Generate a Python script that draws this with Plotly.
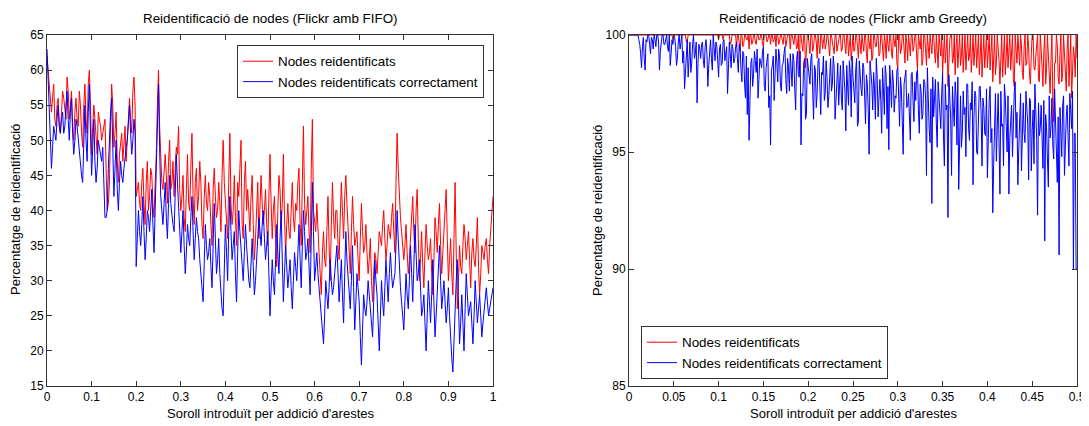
import numpy as np
import plotly.graph_objects as go

# ---------------- Left chart (Flickr amb FIFO) ----------------
# values at x = 0, 0.005, ..., 1.0
fifo_x_step = 0.005
fifo_red = [
    62, 57, 54, 58, 52, 56, 51, 57, 54, 59,
    53, 57, 50, 56, 52, 55, 49, 58, 51, 60,
    48, 55, 50, 54, 52, 51, 53, 40, 44, 58,
    49, 54, 44, 50, 47, 52, 50, 56, 51, 59,
    42, 44, 40, 46, 38, 47, 42, 45, 39, 48,
    60, 46, 43, 48, 41, 50, 44, 42, 49, 52,
    40, 45, 37, 48, 40, 51, 38, 46, 42, 44,
    36, 45, 40, 42, 35, 46, 39, 44, 37, 50,
    41, 36, 51, 38, 45, 35, 42, 50, 36, 47,
    43, 37, 45, 33, 40, 36, 45, 38, 43, 35,
    48, 36, 42, 32, 45, 38, 48, 34, 41, 36,
    44, 37, 40, 46, 35, 52, 38, 42, 34, 53,
    38, 41, 34, 28, 37, 32, 42, 30, 44, 36,
    40, 33, 44, 36, 45, 38, 31, 42, 35, 37,
    30, 41, 34, 38, 31, 36, 27, 34, 31, 37,
    35, 40, 33, 38, 36, 41, 34, 51, 42, 37,
    33, 38, 31, 36, 42, 34, 43, 30, 37, 29,
    38, 33, 36, 28, 39, 34, 41, 31, 37, 43,
    30, 36, 28, 44, 26, 35, 31, 38, 33, 37,
    29, 36, 32, 39, 28, 35, 33, 36, 31, 38,
    42,
]
# values at the midpoints x = 0.0025, 0.0075, ..., 0.9975
fifo_red_mid = [
    60, 55, 56, 53, 55, 52, 54, 56, 53, 57,
    55, 52, 54, 53, 57, 51, 55, 53, 58, 55,
    52, 53, 48, 53, 50, 52, 46, 41, 52, 55,
    51, 47, 48, 51, 49, 47, 54, 53, 57, 55,
    43, 41, 44, 41, 44, 40, 46, 41, 44, 55,
    52, 44, 46, 45, 47, 43, 47, 46, 48, 43,
    42, 39, 43, 41, 46, 42, 44, 40, 47, 38,
    42, 41, 44, 38, 43, 42, 40, 41, 45, 44,
    38, 44, 41, 40, 39, 44, 46, 38, 44, 40,
    40, 42, 38, 36, 44, 40, 41, 40, 38, 42,
    41, 40, 36, 40, 43, 41, 39, 38, 37, 40,
    39, 41, 44, 38, 44, 41, 40, 37, 46, 40,
    37, 36, 31, 34, 33, 37, 35, 38, 39, 40,
    35, 39, 40, 42, 41, 34, 37, 38, 36, 33,
    36, 37, 35, 34, 33, 30, 31, 33, 34, 36,
    38, 36, 35, 37, 39, 37, 44, 46, 39, 34,
    35, 34, 33, 39, 37, 40, 36, 33, 32, 34,
    35, 34, 31, 33, 37, 38, 35, 34, 41, 36,
    33, 31, 36, 34, 30, 32, 35, 36, 35, 33,
    34, 33, 35, 32, 31, 34, 35, 33, 35, 40,
]
fifo_blue = [
    63, 55, 46, 52, 50, 55, 51, 54, 52, 57,
    50, 56, 48, 53, 50, 47, 44, 55, 47, 58,
    45, 53, 44, 50, 48, 49, 39, 40, 52, 56,
    42, 50, 40, 47, 44, 48, 50, 55, 48, 53,
    32, 40, 35, 42, 33, 40, 37, 43, 34, 46,
    58, 42, 38, 44, 36, 45, 39, 37, 48, 41,
    34, 40, 31, 38, 35, 42, 33, 39, 36, 30,
    27, 38, 33, 36, 29, 41, 31, 36, 28, 25,
    38, 30, 42, 33, 37, 27, 40, 34, 30, 38,
    32, 29, 36, 28, 33, 39, 35, 40, 33, 37,
    25, 33, 28, 38, 31, 40, 27, 35, 29, 33,
    26, 34, 30, 38, 29, 40, 33, 36, 28, 44,
    30, 34, 29, 24, 21, 30, 26, 33, 28, 31,
    35, 27, 33, 24, 37, 30, 26, 35, 23, 31,
    27, 18, 28, 25, 30, 26, 22, 33, 28, 20,
    30, 25, 33, 27, 34, 29, 31, 40, 32, 27,
    23, 31, 26, 35, 27, 38, 30, 33, 25, 28,
    20, 30, 24, 33, 22, 28, 35, 26, 30, 24,
    29, 21, 17, 26, 33, 21, 28, 20, 31, 25,
    27, 21, 30, 24, 28, 22, 26, 29, 25, 27,
    29,
]
fifo_blue_mid = [
    59, 50, 49, 51, 53, 52, 53, 51, 55, 53,
    54, 51, 50, 52, 48, 45, 51, 50, 54, 51,
    49, 47, 46, 49, 47, 43, 39, 46, 54, 48,
    46, 43, 44, 45, 46, 49, 52, 51, 50, 51,
    36, 37, 38, 37, 36, 39, 40, 38, 40, 51,
    49, 40, 41, 39, 41, 41, 38, 43, 44, 37,
    37, 35, 34, 36, 39, 37, 36, 37, 33, 29,
    32, 35, 34, 32, 35, 36, 33, 31, 26, 32,
    34, 37, 37, 35, 31, 34, 37, 32, 34, 35,
    30, 33, 32, 30, 36, 37, 38, 36, 35, 31,
    29, 30, 33, 34, 36, 33, 31, 32, 31, 29,
    30, 32, 34, 33, 35, 37, 34, 32, 36, 37,
    32, 31, 26, 22, 25, 28, 29, 30, 29, 33,
    31, 30, 28, 31, 33, 28, 30, 29, 27, 29,
    22, 23, 26, 27, 28, 24, 27, 30, 24, 25,
    27, 29, 30, 31, 31, 30, 35, 36, 29, 25,
    27, 28, 30, 31, 32, 34, 31, 29, 26, 24,
    25, 27, 28, 27, 25, 31, 30, 28, 27, 26,
    25, 19, 22, 30, 27, 24, 24, 26, 28, 26,
    24, 25, 27, 26, 25, 24, 27, 27, 26, 28,
]

# ---------------- Right chart (Flickr amb Greedy) ----------------
# values at x = 0, 0.002, ..., 0.5
greedy_x_step = 0.002
greedy_red = [
    100, 100, 100, 100, 100, 100, 100, 100, 100, 100,
    100, 100, 100, 100, 100, 100, 100, 100, 100, 100,
    100, 100, 100, 100, 100, 100, 100, 100, 100, 100,
    100, 100, 99.7, 100, 100, 100, 100, 100, 100, 100,
    100, 100, 100, 100, 100, 100, 100, 100, 100, 100,
    99.8, 100, 100, 100, 100, 100, 100, 99.7, 100, 100,
    99.5, 100, 99.3, 100, 99.6, 100, 99.8, 99.4, 100, 99.7,
    100, 99.6, 100, 99.8, 100, 99.5, 100, 99.7, 100, 99.6,
    100, 99.8, 99.5, 100, 99.7, 100, 99.6, 100, 99.8, 100,
    99.4, 100, 99.6, 100, 99.5, 98.5, 100, 99.3, 100, 99.6,
    100, 99.2, 100, 99.5, 100, 99.0, 99.7, 100, 99.4, 100,
    99.6, 100, 99.1, 100, 99.5, 100, 99.3, 99.8, 100, 99.4,
    100, 99.2, 100, 99.6, 98.9, 100, 99.4, 100, 99.0, 99.7,
    100, 99.3, 100, 98.8, 99.6, 100, 99.1, 100, 99.5, 100,
    99.2, 100, 98.9, 99.7, 100, 99.3, 100, 99.0, 99.6, 100,
    98.6, 100, 99.4, 100, 98.8, 99.7, 100, 99.1, 100, 99.5,
    100, 98.5, 99.6, 100, 99.0, 100, 98.7, 99.5, 100, 99.2,
    100, 98.8, 99.5, 100, 99.1, 98.4, 100, 99.3, 97.8, 99.8,
    100, 99.0, 98.3, 100, 99.4, 98.7, 100, 99.2, 98.5, 100,
    99.1, 98.4, 100, 99.5, 98.6, 100, 99.0, 98.2, 100, 99.3,
    98.6, 100, 99.2, 98.0, 100, 98.8, 99.5, 97.9, 100, 99.0,
    98.3, 100, 99.1, 98.5, 100, 97.8, 99.4, 100, 98.7, 99.6,
    98.1, 100, 98.8, 99.5, 97.9, 100, 98.6, 99.2, 100, 98.0,
    99.4, 97.8, 100, 98.5, 99.1, 97.5, 100, 96.3, 98.8, 99.6,
    97.9, 100, 98.4, 99.3, 97.6, 100, 98.9, 97.3, 99.5, 98.2,
    99.0,
]
# values at the midpoints x = 0.001, 0.003, ..., 0.499
greedy_red_mid = [
    100, 100, 100, 100, 100, 100, 100, 100, 100, 100,
    100, 100, 100, 100, 100, 100, 100, 100, 100, 100,
    100, 100, 100, 100, 99.8, 100, 100, 100, 100, 100,
    100, 100, 99.7, 100, 100, 100, 100, 100, 100, 100,
    100, 100, 100, 100, 100, 100, 100, 100, 100, 100,
    100, 100, 99.8, 100, 100, 100, 99.6, 100, 100, 100,
    100, 99.7, 100, 99.5, 100, 99.8, 100, 100, 99.6, 100,
    99.7, 100, 99.8, 100, 99.6, 100, 100, 99.8, 100, 100,
    99.7, 100, 100, 99.6, 100, 99.8, 100, 99.5, 100, 100,
    100, 99.7, 100, 99.4, 100, 100, 99.6, 100, 98.6, 100,
    99.5, 100, 99.3, 100, 99.7, 100, 99.2, 100, 99.8, 99.4,
    100, 99.5, 100, 99.7, 99.2, 100, 99.6, 100, 99.3, 100,
    99.4, 100, 99.1, 100, 99.6, 99.3, 100, 99.5, 100, 99.2,
    99.6, 100, 99.2, 100, 99.4, 98.9, 100, 99.5, 100, 99.1,
    100, 99.4, 100, 99.0, 99.6, 100, 99.2, 100, 99.5, 98.8,
    100, 99.2, 100, 99.5, 100, 98.9, 99.6, 100, 99.3, 100,
    99.1, 100, 99.4, 98.7, 100, 99.5, 100, 99.0, 99.6, 100,
    99.3, 100, 98.6, 99.5, 100, 99.2, 98.8, 100, 99.4, 100,
    98.8, 100, 99.5, 98.6, 100, 99.1, 98.4, 100, 99.4, 98.9,
    100, 99.2, 98.7, 100, 99.4, 98.3, 100, 99.0, 98.6, 100,
    99.2, 98.5, 100, 99.4, 98.3, 100, 98.9, 99.5, 98.2, 100,
    99.1, 98.6, 100, 99.3, 98.1, 100, 98.8, 99.4, 100, 98.4,
    99.5, 98.7, 100, 98.3, 99.2, 100, 98.5, 99.6, 98.1, 100,
    98.6, 99.3, 97.9, 100, 98.4, 99.0, 97.3, 98.8, 100, 98.2,
    99.2, 98.0, 100, 98.6, 99.4, 97.8, 100, 98.5, 99.1, 100,
]
greedy_blue = [
    100, 100, 100, 100, 100, 100, 99.6, 98.6, 99.9, 98.5,
    99.7, 100, 99.2, 99.8, 100, 99.5, 100, 98.5, 99.8, 100,
    99.6, 100, 99.3, 98.7, 99.8, 100, 99.5, 99.0, 100, 99.7,
    98.8, 97.7, 99.5, 98.2, 99.7, 98.8, 100, 99.2, 97.1, 99.6,
    99.0, 99.7, 98.6, 99.8, 97.8, 99.4, 99.0, 100, 98.9, 99.5,
    98.2, 99.6, 98.8, 99.8, 99.2, 97.5, 99.7, 98.6, 99.4, 99.0,
    99.7, 98.4, 99.5, 98.0, 99.2, 97.3, 96.6, 95.5, 98.8, 97.8,
    99.3, 98.4, 97.3, 99.0, 98.6, 99.5, 97.6, 98.9, 96.9, 95.3,
    98.7, 97.2, 99.4, 98.0, 99.1, 97.6, 98.8, 99.5, 97.5, 98.6,
    99.2, 97.8, 98.9, 96.8, 99.3, 98.2, 95.3, 97.4, 99.0, 96.6,
    98.6, 97.9, 99.2, 96.4, 98.5, 97.5, 99.0, 96.6, 98.3, 97.2,
    98.9, 96.9, 98.0, 97.6, 99.1, 96.4, 98.4, 97.0, 98.7, 96.8,
    98.3, 95.9, 97.8, 98.9, 96.5, 98.2, 97.1, 99.0, 96.3, 98.0,
    97.4, 98.6, 96.2, 97.9, 94.9, 98.4, 96.8, 97.7, 99.0, 96.5,
    98.1, 95.8, 97.5, 98.7, 96.0, 95.1, 97.9, 98.5, 96.7, 97.3,
    98.6, 96.1, 97.7, 94.9, 98.2, 96.9, 97.5, 95.5, 98.4, 96.3,
    97.2, 98.5, 95.8, 97.6, 96.6, 98.0, 94.0, 97.1, 95.4, 92.8,
    96.5, 98.1, 95.2, 97.3, 96.0, 98.4, 94.4, 96.8, 92.2, 97.5,
    94.0, 96.9, 98.0, 95.3, 93.4, 97.4, 95.8, 96.6, 94.8, 97.9,
    95.5, 96.8, 93.6, 97.6, 95.0, 96.3, 97.8, 94.4, 96.9, 95.7,
    93.9, 97.2, 95.4, 92.4, 96.8, 94.6, 97.5, 93.2, 96.1, 94.4,
    97.3, 95.0, 93.2, 96.6, 94.8, 97.6, 95.6, 93.6, 96.3, 94.2,
    97.1, 95.4, 96.5, 93.8, 97.2, 95.9, 94.5, 96.8, 92.3, 95.7,
    97.0, 94.3, 91.2, 96.1, 93.5, 95.6, 97.3, 94.7, 96.2, 93.7,
    90.6, 95.3, 97.0, 94.0, 96.5, 95.0, 97.5, 96.0, 90.0, 95.8,
    90.0,
]
greedy_blue_mid = [
    100, 100, 100, 100, 100, 99.8, 99.2, 99.5, 99.0, 99.8,
    100, 99.6, 99.9, 99.4, 99.8, 100, 99.7, 99.3, 100, 99.6,
    99.8, 99.5, 100, 99.2, 99.6, 99.9, 98.7, 99.7, 99.4, 100,
    99.3, 98.6, 99.8, 99.1, 98.4, 99.6, 99.0, 99.7, 98.8, 99.4,
    99.6, 98.9, 99.5, 99.2, 98.7, 99.8, 98.5, 99.3, 99.7, 98.9,
    99.4, 98.7, 99.7, 98.9, 99.5, 98.4, 99.2, 99.6, 98.8, 99.5,
    99.0, 99.6, 98.5, 99.3, 97.9, 99.1, 98.6, 97.2, 99.0, 98.3,
    98.9, 99.4, 98.1, 98.8, 99.3, 97.8, 98.6, 99.2, 97.4, 98.5,
    99.1, 98.3, 98.8, 99.4, 97.9, 98.7, 99.2, 98.1, 99.0, 97.6,
    98.5, 99.2, 97.7, 98.9, 98.3, 99.3, 97.5, 98.8, 96.4, 99.0,
    98.1, 99.0, 97.6, 98.7, 96.9, 98.9, 97.8, 98.4, 99.1, 97.5,
    98.2, 97.4, 99.0, 97.9, 98.6, 97.2, 98.8, 98.0, 97.3, 98.9,
    97.6, 98.7, 97.0, 98.4, 99.1, 97.4, 98.5, 96.1, 98.9, 97.7,
    98.8, 97.5, 98.3, 96.8, 98.9, 97.9, 98.4, 96.4, 98.2, 97.6,
    97.2, 98.6, 96.6, 98.3, 97.8, 98.7, 96.9, 98.0, 97.4, 98.5,
    97.5, 98.2, 96.3, 97.9, 98.5, 97.0, 96.5, 98.3, 97.2, 98.0,
    98.4, 96.8, 97.9, 96.4, 98.1, 97.3, 98.6, 96.0, 97.7, 98.2,
    97.6, 96.2, 98.0, 96.9, 97.5, 95.6, 97.9, 97.0, 98.3, 96.4,
    97.8, 96.1, 97.4, 98.2, 96.7, 95.2, 97.6, 96.9, 97.9, 96.0,
    97.1, 98.0, 96.5, 97.4, 94.9, 97.8, 96.6, 97.3, 95.8, 97.7,
    96.6, 97.8, 96.0, 94.5, 97.5, 96.9, 95.4, 97.6, 96.2, 97.9,
    96.1, 97.4, 95.6, 97.0, 96.4, 98.0, 96.7, 95.1, 97.5, 96.3,
    95.8, 97.6, 96.2, 97.3, 94.2, 96.8, 97.9, 95.5, 97.1, 96.0,
    95.0, 97.2, 96.6, 94.7, 97.4, 96.1, 95.3, 97.7, 94.6, 96.5,
    96.9, 94.8, 97.4, 95.9, 97.0, 94.4, 96.6, 97.6, 95.8, 90.0,
]

series_names = ["Nodes reidentificats", "Nodes reidentificats correctament"]
left_title = "Reidentificació de nodes (Flickr amb FIFO)"
right_title = "Reidentificació de nodes (Flickr amb Greedy)"
x_label = "Soroll introduït per addició d'arestes"
y_label = "Percentatge de reidentificació"

left_xticks = [0, 0.1, 0.2, 0.3, 0.4, 0.5, 0.6, 0.7, 0.8, 0.9, 1]
left_xtick_text = ["0", "0.1", "0.2", "0.3", "0.4", "0.5", "0.6", "0.7", "0.8", "0.9", "1"]
left_yticks = [15, 20, 25, 30, 35, 40, 45, 50, 55, 60, 65]
right_xticks = [0, 0.05, 0.1, 0.15, 0.2, 0.25, 0.3, 0.35, 0.4, 0.45, 0.5]
right_xtick_text = ["0", "0.05", "0.1", "0.15", "0.2", "0.25", "0.3", "0.35", "0.4", "0.45", "0.5"]
right_yticks = [85, 90, 95, 100]


def merge(main, mid, step):
    """Interleave the grid samples with the midpoint samples."""
    xs, ys = [], []
    for i, v in enumerate(mid):
        xs += [round(i * step, 5), round((i + 0.5) * step, 5)]
        ys += [main[i], v]
    xs.append(round(len(mid) * step, 5))
    ys.append(main[len(mid)])
    return xs, ys


fx_r, fy_r = merge(fifo_red, fifo_red_mid, fifo_x_step)
fx_b, fy_b = merge(fifo_blue, fifo_blue_mid, fifo_x_step)
gx_r, gy_r = merge(greedy_red, greedy_red_mid, greedy_x_step)
gx_b, gy_b = merge(greedy_blue, greedy_blue_mid, greedy_x_step)

# page body has an 8px default margin: convert page pixels to figure pixels
OFF = 8
W, H = 1089 - OFF, 426 - OFF
FONT = "Liberation Sans"


def px(xp):
    return (xp - OFF) / W


def py(yp):
    return 1 - (yp - OFF) / H


fig = go.Figure()
fig.add_trace(go.Scatter(x=fx_r, y=fy_r, mode="lines", name=series_names[0],
                         line=dict(color="#ff0000", width=1), xaxis="x", yaxis="y", legend="legend"))
fig.add_trace(go.Scatter(x=fx_b, y=fy_b, mode="lines", name=series_names[1],
                         line=dict(color="#0000ff", width=1), xaxis="x", yaxis="y", legend="legend"))
fig.add_trace(go.Scatter(x=gx_r, y=gy_r, mode="lines", name=series_names[0],
                         line=dict(color="#ff0000", width=1), xaxis="x2", yaxis="y2", legend="legend2"))
fig.add_trace(go.Scatter(x=gx_b, y=gy_b, mode="lines", name=series_names[1],
                         line=dict(color="#0000ff", width=1), xaxis="x2", yaxis="y2", legend="legend2"))

axis_common = dict(showline=True, linecolor="#333333", linewidth=1, mirror="allticks",
                   ticks="inside", ticklen=5, tickcolor="#333333", showgrid=False, zeroline=False,
                   tickfont=dict(family=FONT, size=12, color="#000000"), automargin=False)

ytop = py(35)
ybot = py(386)
legend_style = dict(xanchor="left", yanchor="top", bordercolor="#333333", borderwidth=1,
                    bgcolor="white", font=dict(family=FONT, size=13.4, color="#000000"))
fig.update_layout(
    width=W, height=H,
    margin=dict(l=0, r=0, t=0, b=0),
    paper_bgcolor="white", plot_bgcolor="white",
    font=dict(family=FONT, size=12, color="#000000"),
    xaxis=dict(domain=[px(47), px(493)], range=[0, 1], tickvals=left_xticks,
               ticktext=left_xtick_text, anchor="y", **axis_common),
    yaxis=dict(domain=[ybot, ytop], range=[15, 65], tickvals=left_yticks, anchor="x", **axis_common),
    xaxis2=dict(domain=[px(629), px(1077)], range=[0, 0.5], tickvals=right_xticks,
                ticktext=right_xtick_text, anchor="y2", **axis_common),
    yaxis2=dict(domain=[ybot, ytop], range=[85, 100], tickvals=right_yticks, anchor="x2", **axis_common),
    legend=dict(x=px(237), y=py(45), **legend_style),
    legend2=dict(x=px(641), y=py(326), **legend_style),
    showlegend=True,
)

ann = []
for cx, title in [((47 + 493) / 2, left_title), ((629 + 1077) / 2, right_title)]:
    ann.append(dict(x=px(cx), y=py(18), xref="paper", yref="paper", text=title,
                    showarrow=False, font=dict(family=FONT, size=13.4), xanchor="center", yanchor="middle"))
    ann.append(dict(x=px(cx), y=py(413), xref="paper", yref="paper", text=x_label,
                    showarrow=False, font=dict(family=FONT, size=13), xanchor="center", yanchor="middle"))
for lx in [15, 597]:
    ann.append(dict(x=px(lx), y=py(210), xref="paper", yref="paper", text=y_label,
                    textangle=-90, showarrow=False, font=dict(family=FONT, size=13),
                    xanchor="center", yanchor="middle"))
fig.update_layout(annotations=ann)

fig.write_html("out.html")
